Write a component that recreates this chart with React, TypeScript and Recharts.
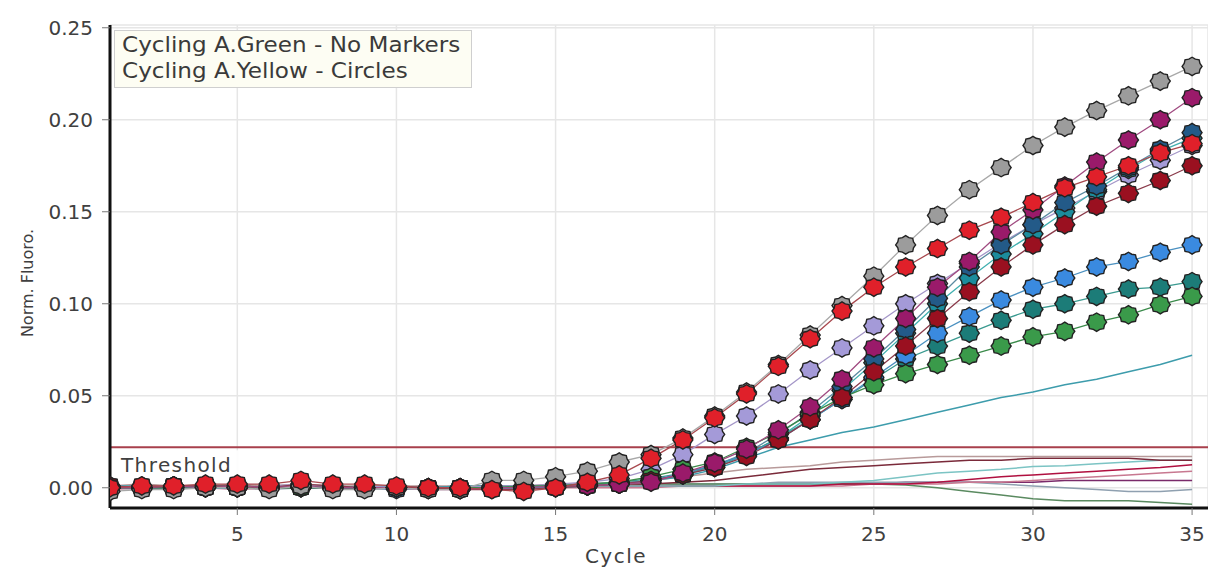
import { CartesianGrid, Label, Line, LineChart, ReferenceLine, XAxis, YAxis } from "recharts";

const FONT = '"DejaVu Sans", "Liberation Sans", Arial, sans-serif';

const cycles = [1, 2, 3, 4, 5, 6, 7, 8, 9, 10, 11, 12, 13, 14, 15, 16, 17, 18, 19, 20, 21, 22, 23, 24, 25, 26, 27, 28, 29, 30, 31, 32, 33, 34, 35];
const xTicks = [5, 10, 15, 20, 25, 30, 35];
const yTicks = [0, 0.05, 0.1, 0.15, 0.2, 0.25];
const threshold = 0.022;
const legendLines = ["Cycling A.Green - No Markers", "Cycling A.Yellow - Circles"];

// Cycling A.Green - no markers
const gcPurple = [0, 0, 0, 0, 0, 0, 0, 0, 0, 0, 0, 0, 0, 0.001, 0.001, 0.001, 0.001, 0.001, 0.001, 0.001, 0.002, 0.002, 0.002, 0.002, 0.002, 0.003, 0.003, 0.003, 0.003, 0.003, 0.004, 0.004, 0.004, 0.004, 0.004];
const gcSlate = [0, -0.001, 0, 0, 0, -0.001, 0, 0, -0.001, 0, 0, 0, 0, 0, 0.001, 0.001, 0.001, 0.001, 0.002, 0.002, 0.002, 0.003, 0.003, 0.003, 0.003, 0.003, 0.003, 0.003, 0.002, 0.001, 0, -0.001, -0.002, -0.002, -0.001];
const gcGreen = [0, 0.001, 0, 0, 0.001, 0, 0.001, 0, 0, 0.001, 0, 0, 0, 0.001, 0.001, 0.001, 0.001, 0.002, 0.002, 0.002, 0.002, 0.002, 0.002, 0.002, 0.002, 0.0015, 0, -0.002, -0.004, -0.006, -0.007, -0.007, -0.007, -0.008, -0.009];
const gcPink = [-0.001, 0, 0, 0, -0.001, 0, 0, 0, 0, -0.001, 0, 0, 0, 0, 0, 0, 0, 0, 0.001, 0.001, 0.001, 0.001, 0.001, 0.001, 0.002, 0.002, 0.002, 0.003, 0.003, 0.004, 0.005, 0.006, 0.007, 0.008, 0.009];
const gcCrimson = [0, 0, 0, 0.001, 0, 0, 0, 0, 0, 0, 0.001, 0, 0, 0, 0, 0.001, 0.001, 0.001, 0.001, 0.001, 0.001, 0.001, 0.001, 0.002, 0.002, 0.002, 0.003, 0.0045, 0.006, 0.007, 0.008, 0.009, 0.01, 0.011, 0.0125];
const gcLightTeal = [0, 0, 0.001, 0, 0, 0.001, 0, 0, 0.001, 0, 0, 0, 0, 0.001, 0, 0.001, 0.001, 0.001, 0.001, 0.001, 0.002, 0.002, 0.002, 0.003, 0.004, 0.006, 0.008, 0.009, 0.01, 0.0115, 0.012, 0.013, 0.014, 0.015, 0.015];
const gcMaroon = [0, 0.001, 0.001, 0, 0.001, 0.001, 0.001, 0, 0.001, 0.001, 0, 0.001, 0.001, 0.001, 0.001, 0.001, 0.002, 0.002, 0.003, 0.004, 0.006, 0.008, 0.01, 0.011, 0.012, 0.013, 0.014, 0.015, 0.015, 0.016, 0.016, 0.016, 0.016, 0.015, 0.015];
const gcRose = [0.001, 0.002, 0.001, 0.001, 0.002, 0.001, 0.002, 0.001, 0.001, 0.001, 0.001, 0.001, 0.001, 0.001, 0.002, 0.002, 0.003, 0.004, 0.006, 0.008, 0.01, 0.011, 0.012, 0.014, 0.015, 0.016, 0.017, 0.017, 0.017, 0.017, 0.017, 0.017, 0.017, 0.017, 0.017];
const gcTeal = [0.001, 0.001, 0, 0.001, 0.001, 0, 0.001, 0.001, 0, 0.001, 0, 0.001, 0.001, 0.001, 0.001, 0.002, 0.002, 0.004, 0.006, 0.01, 0.016, 0.022, 0.026, 0.03, 0.033, 0.037, 0.041, 0.045, 0.049, 0.052, 0.056, 0.059, 0.063, 0.067, 0.072];

// Cycling A.Yellow - circles
const lavender = [0.001, 0, 0.001, 0.001, 0, 0.001, 0.002, 0, 0.001, 0, 0, 0, 0.001, 0.001, 0.002, 0.003, 0.005, 0.01, 0.018, 0.029, 0.039, 0.051, 0.064, 0.076, 0.088, 0.1, 0.111, 0.122, 0.133, 0.143, 0.152, 0.161, 0.17, 0.178, 0.186];
const cyan = [0, 0.001, 0, 0, 0.001, 0, 0, 0.001, 0, 0, 0, 0, 0, 0, 0.001, 0.001, 0.002, 0.004, 0.007, 0.011, 0.018, 0.027, 0.039, 0.053, 0.068, 0.084, 0.1, 0.114, 0.127, 0.138, 0.15, 0.162, 0.173, 0.183, 0.19];
const navy = [0, 0, 0, 0.001, 0, 0, 0.001, 0, 0, 0, 0, -0.001, 0, 0, 0, 0.001, 0.002, 0.004, 0.007, 0.012, 0.019, 0.029, 0.041, 0.055, 0.07, 0.086, 0.103, 0.12, 0.132, 0.143, 0.155, 0.164, 0.174, 0.184, 0.193];
const teal = [0, 0, 0.001, 0, 0, 0, 0.001, 0, 0, 0, 0, 0, 0, 0, 0.001, 0.002, 0.003, 0.005, 0.008, 0.012, 0.018, 0.027, 0.037, 0.048, 0.059, 0.07, 0.077, 0.084, 0.091, 0.097, 0.1, 0.104, 0.108, 0.109, 0.112];
const blue = [0, 0, 0, 0, 0, 0.001, 0, 0, 0, -0.001, 0, 0, 0, 0, 0.001, 0.001, 0.002, 0.004, 0.008, 0.0125, 0.018, 0.026, 0.037, 0.048, 0.06, 0.072, 0.084, 0.093, 0.102, 0.109, 0.114, 0.12, 0.123, 0.128, 0.132];
const green = [0, 0, 0, 0.001, 0, 0, 0, 0, 0, 0, 0, 0, 0, 0.001, 0.001, 0.002, 0.003, 0.006, 0.01, 0.014, 0.022, 0.03, 0.04, 0.049, 0.056, 0.062, 0.067, 0.072, 0.077, 0.082, 0.085, 0.09, 0.094, 0.0995, 0.104];
const darkRed = [0.001, 0, 0.001, 0.001, 0.001, 0, 0.002, 0.001, 0, 0, 0, -0.001, -0.001, -0.001, 0, 0.001, 0.002, 0.004, 0.007, 0.011, 0.017, 0.026, 0.037, 0.049, 0.063, 0.077, 0.092, 0.1065, 0.12, 0.132, 0.143, 0.153, 0.16, 0.167, 0.175];
const magenta = [0, 0, 0.001, 0, 0.001, 0, 0.001, 0, 0, 0, -0.001, -0.001, 0, 0, 0.001, 0.001, 0.002, 0.003, 0.008, 0.0135, 0.021, 0.0315, 0.044, 0.059, 0.076, 0.092, 0.109, 0.123, 0.139, 0.151, 0.164, 0.177, 0.189, 0.2, 0.212];
const gray = [-0.002, -0.001, -0.001, 0, 0, -0.001, 0.001, -0.001, -0.001, 0, -0.001, -0.001, 0.004, 0.004, 0.006, 0.009, 0.014, 0.018, 0.027, 0.039, 0.052, 0.067, 0.083, 0.099, 0.115, 0.132, 0.148, 0.162, 0.174, 0.186, 0.196, 0.205, 0.213, 0.221, 0.229];
const red = [0, 0.001, 0.001, 0.002, 0.002, 0.002, 0.004, 0.002, 0.002, 0.001, 0, 0, -0.001, -0.002, 0, 0.003, 0.007, 0.016, 0.026, 0.038, 0.051, 0.066, 0.081, 0.096, 0.109, 0.12, 0.13, 0.14, 0.147, 0.155, 0.163, 0.169, 0.175, 0.182, 0.187];

type Series = { key: string; values: number[]; stroke: string; fill?: string };

const greenChannel: Series[] = [
  { key: "gcPurple", values: gcPurple, stroke: "#7a2a6a" },
  { key: "gcSlate", values: gcSlate, stroke: "#8fa0b0" },
  { key: "gcGreen", values: gcGreen, stroke: "#5a8a60" },
  { key: "gcPink", values: gcPink, stroke: "#c87890" },
  { key: "gcCrimson", values: gcCrimson, stroke: "#b01040" },
  { key: "gcLightTeal", values: gcLightTeal, stroke: "#7cc4c4" },
  { key: "gcMaroon", values: gcMaroon, stroke: "#7a2a3a" },
  { key: "gcRose", values: gcRose, stroke: "#b89a9a" },
  { key: "gcTeal", values: gcTeal, stroke: "#3d9cac" },
];

const yellowChannel: Series[] = [
  { key: "lavender", values: lavender, stroke: "#a496c8", fill: "#a49ad8" },
  { key: "cyan", values: cyan, stroke: "#40b0b0", fill: "#1c8c9c" },
  { key: "navy", values: navy, stroke: "#5a8aa0", fill: "#235a88" },
  { key: "teal", values: teal, stroke: "#3a9a90", fill: "#1c7c78" },
  { key: "blue", values: blue, stroke: "#4a90c0", fill: "#3a8ae0" },
  { key: "green", values: green, stroke: "#3a8a4a", fill: "#3a9a4a" },
  { key: "darkRed", values: darkRed, stroke: "#8a3a4a", fill: "#9a1020" },
  { key: "magenta", values: magenta, stroke: "#a04a80", fill: "#9a1a6a" },
  { key: "gray", values: gray, stroke: "#a8a8a8", fill: "#9c9c9c" },
  { key: "red", values: red, stroke: "#a8484e", fill: "#e0202a" },
];

const rows = cycles.map((cycle, i) => {
  const row: Record<string, number> = { cycle };
  for (const s of [...greenChannel, ...yellowChannel]) row[s.key] = s.values[i];
  return row;
});

// little gear-shaped circle marker like the instrument software draws
function gearDot(fill: string) {
  return (props: any) => {
    const { cx, cy, index } = props;
    if (cx == null || cy == null) return <g key={index} />;
    const pts: string[] = [];
    for (let k = 0; k < 16; k++) {
      const a = (Math.PI * 2 * k) / 16;
      const r = k % 2 ? 0.85 : 1;
      pts.push(`${cx + 10 * r * Math.cos(a)},${cy + 9.2 * r * Math.sin(a)}`);
    }
    return <polygon key={index} points={pts.join(" ")} fill={fill} stroke="#222" strokeWidth={1.4} />;
  };
}

function ThresholdLabel({ viewBox }: any) {
  const { x, y } = viewBox;
  return (
    <g>
      <rect x={x + 3} y={y + 3} width={125} height={29} fill="#fff" fillOpacity={0.9} />
      <text x={x + 11} y={y + 25} fontSize={20} letterSpacing={1.4} fontFamily={FONT} fill="#404040">
        Threshold
      </text>
    </g>
  );
}

export default function App() {
  return (
    <div style={{ position: "relative", width: 1208, height: 570, background: "#fff", fontFamily: FONT }}>
      <style>{"body{margin:0}"}</style>
      <LineChart width={1208} height={570} data={rows} margin={{ top: 25, right: 0, bottom: 0, left: 0 }}>
        <CartesianGrid stroke="#e6e6e6" strokeWidth={1.5} />
        <XAxis
          dataKey="cycle"
          type="number"
          domain={[1, 35.5]}
          ticks={xTicks}
          allowDataOverflow
          height={62}
          axisLine={{ stroke: "#111", strokeWidth: 3 }}
          tickLine={{ stroke: "#777" }}
          tickSize={7}
          tickMargin={12}
          tick={{ fill: "#404040", fontSize: 20, fontFamily: FONT }}
        >
          <Label
            content={() => (
              <text x={616} y={563} textAnchor="middle" fontSize={20} letterSpacing={1.5} fontFamily={FONT} fill="#404040">
                Cycle
              </text>
            )}
          />
        </XAxis>
        <XAxis
          xAxisId="top"
          orientation="top"
          dataKey="cycle"
          type="number"
          domain={[1, 35.5]}
          height={0}
          tick={false}
          tickLine={false}
          axisLine={{ stroke: "#555", strokeWidth: 2 }}
        />
        <YAxis
          type="number"
          domain={[-0.011, 0.2515]}
          ticks={yTicks}
          allowDataOverflow
          width={110}
          tickFormatter={(v: number) => v.toFixed(2)}
          axisLine={{ stroke: "#111", strokeWidth: 3 }}
          tickLine={{ stroke: "#777" }}
          tickSize={8}
          tickMargin={9}
          tick={{ fill: "#404040", fontSize: 20, fontFamily: FONT }}
        >
          <Label
            content={() => (
              <text x={33} y={283} transform="rotate(-90 33 283)" textAnchor="middle" fontSize={16} fontFamily={FONT} fill="#404040">
                Norm. Fluoro.
              </text>
            )}
          />
        </YAxis>
        <ReferenceLine y={threshold} stroke="#a8404c" strokeWidth={2} label={<ThresholdLabel />} />
        {greenChannel.map((s) => (
          <Line
            key={s.key}
            dataKey={s.key}
            type="linear"
            stroke={s.stroke}
            strokeWidth={1.5}
            dot={false}
            activeDot={false}
            isAnimationActive={false}
          />
        ))}
        {yellowChannel.map((s) => (
          <Line
            key={s.key}
            dataKey={s.key}
            type="linear"
            stroke={s.stroke}
            strokeWidth={1.3}
            dot={gearDot(s.fill as string)}
            activeDot={false}
            isAnimationActive={false}
          />
        ))}
      </LineChart>
      <div
        style={{
          position: "absolute",
          left: 114,
          top: 30,
          width: 342,
          height: 54,
          padding: "1px 7px",
          background: "#fdfdf3",
          border: "1px solid #cfcfcf",
          fontSize: 21,
          lineHeight: "26px",
          color: "#3a3a3a",
          whiteSpace: "nowrap",
        }}
      >
        {legendLines.map((t) => (
          <div key={t} style={{ transform: "scaleX(1.1)", transformOrigin: "left center" }}>
            {t}
          </div>
        ))}
      </div>
    </div>
  );
}
